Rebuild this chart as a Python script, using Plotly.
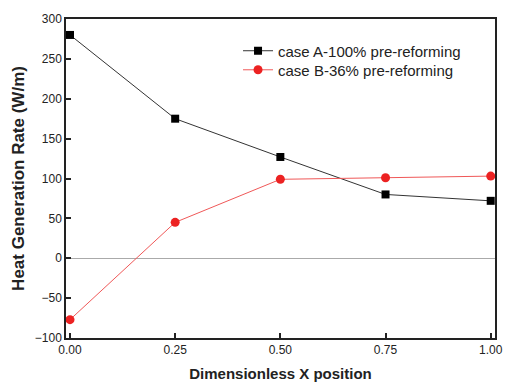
import plotly.graph_objects as go

x_pos = [0.0, 0.25, 0.5, 0.75, 1.0]
case_a = [280, 175, 127, 80, 72]
case_b = [-77, 45, 99, 101, 103]
name_a = "case A-100% pre-reforming"
name_b = "case B-36% pre-reforming"
x_ticks = [0.0, 0.25, 0.5, 0.75, 1.0]
x_tick_text = ["0.00", "0.25", "0.50", "0.75", "1.00"]

fig = go.Figure()
fig.add_trace(go.Scatter(x=x_pos, y=case_a, name=name_a, mode="lines+markers",
                         line=dict(color="#333333", width=1),
                         marker=dict(symbol="square", size=8, color="black"),
                         legend="legend"))
fig.add_trace(go.Scatter(x=x_pos, y=case_b, name=name_b, mode="lines+markers",
                         line=dict(color="#f05858", width=1),
                         marker=dict(symbol="circle", size=9, color="#ec2222"),
                         legend="legend2"))

leg_common = dict(xanchor="left", yanchor="middle", font=dict(size=15, color="#222222"),
                  bgcolor="rgba(0,0,0,0)", borderwidth=0)
fig.update_layout(
    width=505, height=382,
    margin=dict(l=66, r=10, t=19, b=44, autoexpand=False),
    paper_bgcolor="white", plot_bgcolor="white",
    font=dict(family="Liberation Sans, Arial", color="#222222"),
    showlegend=True,
    legend=dict(x=0.401, y=0.8997, **leg_common),
    legend2=dict(x=0.401, y=0.840, **leg_common),
)
fig.update_xaxes(range=[-0.0095, 1.0102], tickvals=x_ticks, ticktext=x_tick_text,
                 ticks="inside", ticklen=5, tickcolor="#222222", tickwidth=1.5,
                 showline=True, linecolor="#222222", linewidth=1.5, mirror=True,
                 showgrid=False, zeroline=False, tickfont=dict(size=12), automargin=False,
                 title=dict(text="<b>Dimensionless X position</b>", font=dict(size=15), standoff=12))
fig.update_yaxes(range=[-100, 300], dtick=50,
                 ticks="inside", ticklen=5, tickcolor="#222222", tickwidth=1.5,
                 showline=True, linecolor="#222222", linewidth=1.5, mirror=True,
                 showgrid=False, zeroline=True, zerolinecolor="#aaaaaa", zerolinewidth=1.2,
                 tickfont=dict(size=12), automargin=False,
                 title=dict(text="<b>Heat Generation Rate (W/m)</b>", font=dict(size=17), standoff=6))

fig.write_html("out.html")
